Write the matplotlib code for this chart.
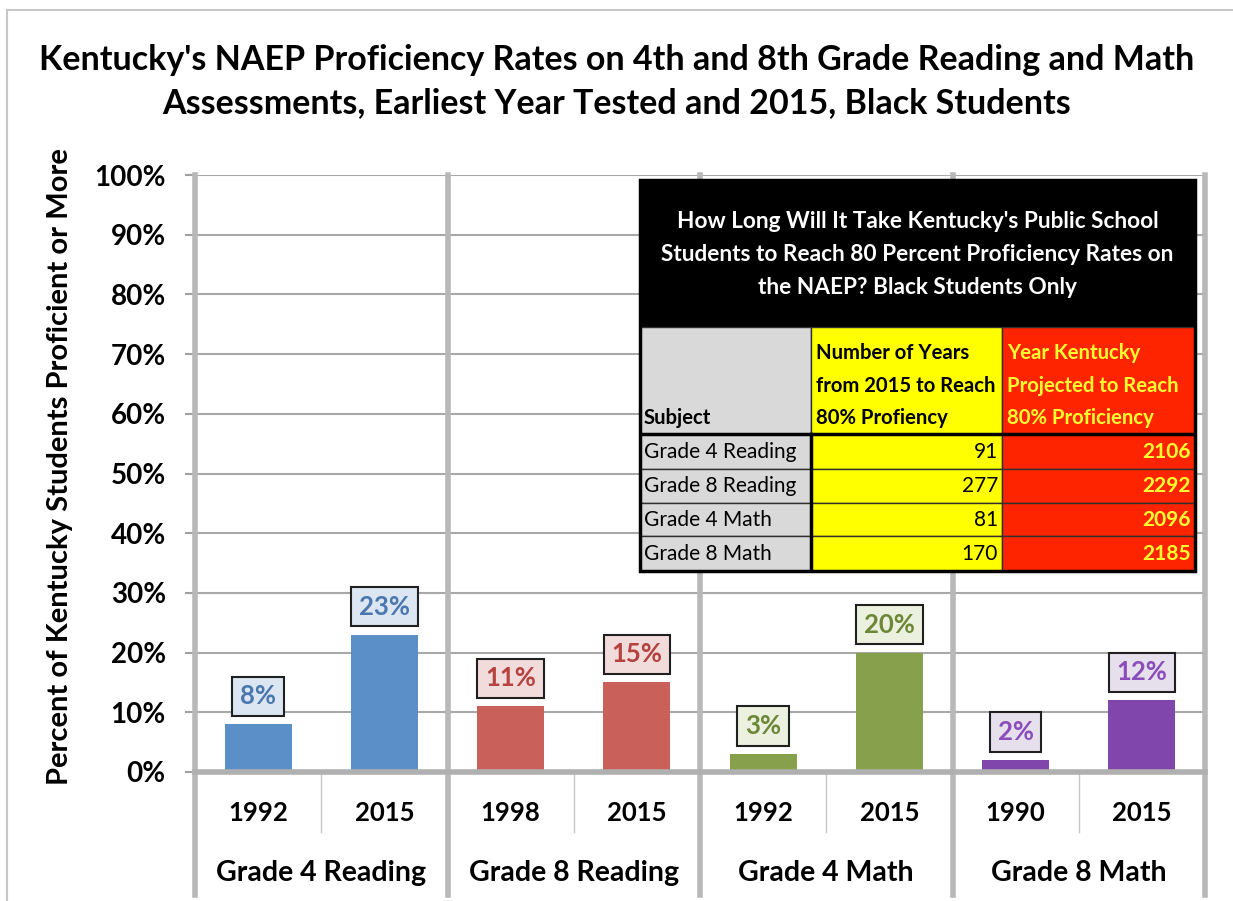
import matplotlib
matplotlib.use("Agg")
import matplotlib.pyplot as plt
from matplotlib.patches import Rectangle
from matplotlib.lines import Line2D
import matplotlib.transforms as mtransforms

plt.rcParams['font.family'] = ['Lato', 'DejaVu Sans']

# ---- data ----
groups = ["Grade 4 Reading", "Grade 8 Reading", "Grade 4 Math", "Grade 8 Math"]
years = ["1992", "2015", "1998", "2015", "1992", "2015", "1990", "2015"]
values = [8, 23, 11, 15, 3, 20, 2, 12]
bar_colors = ["#5B8FC7", "#5B8FC7", "#C9605A", "#C9605A", "#87A04B", "#87A04B", "#8046AC", "#8046AC"]
label_colors = ["#4A78AE", "#4A78AE", "#B5423F", "#B5423F", "#6C8737", "#6C8737", "#8A4DBA", "#8A4DBA"]
box_fills = ["#DCE6F2", "#DCE6F2", "#F2DCDB", "#F2DCDB", "#EBF1DE", "#EBF1DE", "#E6E0EC", "#E6E0EC"]
yticks = [0, 10, 20, 30, 40, 50, 60, 70, 80, 90, 100]

title = ("Kentucky's NAEP Proficiency Rates on 4th and 8th Grade Reading and Math\n"
         "Assessments, Earliest Year Tested and 2015, Black Students")
ylabel = "Percent of Kentucky Students Proficient or More"

table_title = ("How Long Will It Take Kentucky's Public School\n"
               "Students to Reach 80 Percent Proficiency Rates on\n"
               "the NAEP? Black Students Only")
table_headers = ["Subject", "Number of Years\nfrom 2015 to Reach\n80% Profiency",
                 "Year Kentucky\nProjected to Reach\n80% Proficiency"]
table_subjects = ["Grade 4 Reading", "Grade 8 Reading", "Grade 4 Math", "Grade 8 Math"]
table_years_to = [91, 277, 81, 170]
table_year_reach = [2106, 2292, 2096, 2185]

W, H = 1233, 901
fig = plt.figure(figsize=(W / 100, H / 100), dpi=100)
fig.patch.set_facecolor("white")

# outer chart border
fig.add_artist(Line2D([7 / W, 1.0], [1 - 10 / H, 1 - 10 / H], transform=fig.transFigure, color="#C8C8C8", lw=1.5))
fig.add_artist(Line2D([7 / W, 7 / W], [1 - 10 / H, 0], transform=fig.transFigure, color="#C8C8C8", lw=1.5))

ax = fig.add_axes([195 / W, 1 - 772 / H, 1010 / W, 597 / H])
x = list(range(len(values)))
ax.bar(x, values, width=0.53, color=bar_colors, zorder=3)
ax.set_xlim(-0.5, len(values) - 0.5)
ax.set_ylim(0, 100)
ax.set_yticks(yticks)
ax.set_yticklabels([f"{t}%" for t in yticks], fontsize=20, fontweight="bold")
ax.tick_params(axis="y", length=7, color="#A0A0A0", width=1.5, pad=14)
ax.tick_params(axis="x", length=0, labelbottom=False)
ax.yaxis.grid(True, color="#A8A8A8", lw=1.5, zorder=1)
for s in ["top", "right", "left"]:
    ax.spines[s].set_visible(False)
ax.spines["bottom"].set_color("#B0B0B0")
ax.spines["bottom"].set_linewidth(4)
ax.spines["bottom"].set_zorder(4)
ax.set_ylabel(ylabel, fontsize=21, fontweight="bold")
ax.yaxis.set_label_coords(-0.121, 0.511)

# bar labels
for xi, v, tc, fc in zip(x, values, label_colors, box_fills):
    ax.annotate(f"{v}%", (xi, v), xytext=(0, 28), textcoords="offset pixels",
                ha="center", va="center", fontsize=18.5, fontweight="bold", color=tc,
                bbox=dict(boxstyle="square,pad=0.3", fc=fc, ec="#202020", lw=1.5), zorder=5)

# separators and category labels
trans = mtransforms.blended_transform_factory(ax.transData, ax.transAxes)
n_g = len(groups)
per = len(values) // n_g
for g in range(n_g + 1):
    xs = g * per - 0.5
    ax.add_line(Line2D([xs, xs], [-0.206, 1.0], transform=trans, color="#B8B8B8", lw=4, clip_on=False, zorder=2))
for g in range(n_g):
    xs = g * per + 0.5
    ax.add_line(Line2D([xs, xs], [0, -0.1], transform=trans, color="#C8C8C8", lw=1, clip_on=False))
    ax.text(g * per + (per - 1) / 2, -0.169, groups[g], transform=trans, ha="center", va="center",
            fontsize=20.5, fontweight="bold")
for xi, yr in zip(x, years):
    ax.text(xi, -0.069, yr, transform=trans, ha="center", va="center", fontsize=18.5, fontweight="bold")

fig.text(0.5, 1 - 60 / H, title.split("\n")[0], ha="center", va="center", fontsize=24.5, fontweight="bold")
fig.text(0.5, 1 - 103 / H, title.split("\n")[1], ha="center", va="center", fontsize=24.5, fontweight="bold")

# ---- inset table ----
tx0, ty0, tw, th = 640, 180, 555, 391
tax = fig.add_axes([tx0 / W, 1 - (ty0 + th) / H, tw / W, th / H])
tax.set_xlim(0, tw)
tax.set_ylim(th, 0)
tax.axis("off")
cols = [0, 171, 362, 555]
rows = [0, 147, 254, 289, 323, 356, 391]
col_fill = ["#D9D9D9", "#FFFF00", "#FF2400"]

tax.add_patch(Rectangle((0, 0), tw, rows[1], fc="black", ec="black"))
tax.text(tw / 2, rows[1] / 2 + 1, table_title, ha="center", va="center", color="white",
         fontsize=16.3, fontweight="bold", linespacing=1.7)
for c in range(3):
    for r in range(1, len(rows) - 1):
        tax.add_patch(Rectangle((cols[c], rows[r]), cols[c + 1] - cols[c], rows[r + 1] - rows[r],
                                fc=col_fill[c], ec="#303030", lw=1))
# header row texts
tax.text(cols[0] + 4, rows[2] - 6, table_headers[0], ha="left", va="bottom", fontsize=14.6, fontweight="bold")
tax.text(cols[1] + 5, rows[2] - 6, table_headers[1], ha="left", va="bottom", fontsize=14.6,
         fontweight="bold", linespacing=1.78)
tax.text(cols[2] + 5, rows[2] - 6, table_headers[2], ha="left", va="bottom", fontsize=14.6,
         fontweight="bold", color="#FFFF30", linespacing=1.78)
for i, (s, n, yv) in enumerate(zip(table_subjects, table_years_to, table_year_reach)):
    yc = (rows[2 + i] + rows[3 + i]) / 2
    tax.text(cols[0] + 4, yc, s, ha="left", va="center", fontsize=15)
    tax.text(cols[2] - 4, yc, str(n), ha="right", va="center", fontsize=15)
    tax.text(cols[3] - 4, yc, str(yv), ha="right", va="center", fontsize=15, fontweight="bold", color="#FFFF30")
# thick borders
tax.add_line(Line2D([0, tw], [rows[2], rows[2]], color="black", lw=2.5))
tax.add_line(Line2D([cols[1], cols[1]], [rows[2], th], color="black", lw=2.5))
tax.add_patch(Rectangle((0, 0), tw, th, fill=False, ec="black", lw=2.5, clip_on=False))

fig.savefig("out.png", dpi=100, facecolor="white")
